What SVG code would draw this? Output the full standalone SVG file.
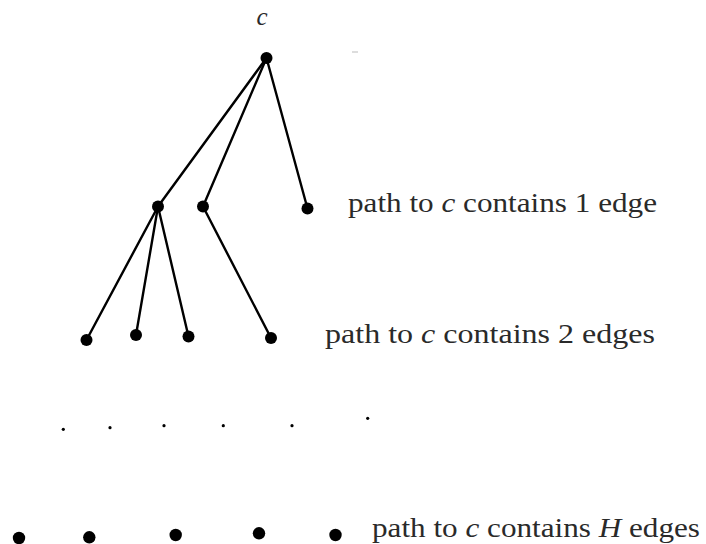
<svg xmlns="http://www.w3.org/2000/svg" width="706" height="544" viewBox="0 0 706 544">
<style>
.edge{stroke:#000;stroke-width:2.4;fill:none;stroke-linecap:round}
.node{fill:#000}
.dot{fill:#000}
.lbl{font-family:"Liberation Serif","Times New Roman",serif;font-size:27px;fill:#2a2a2a}
.it{font-style:italic}
</style>
<rect width="706" height="544" fill="#fff"/>
<g id="connectors">
<line class="edge" x1="266.5" y1="58" x2="158" y2="206.5"/>
<line class="edge" x1="266.5" y1="58" x2="203" y2="206.5"/>
<line class="edge" x1="266.5" y1="58" x2="307.5" y2="208.5"/>
<line class="edge" x1="158" y1="206.5" x2="86.5" y2="340"/>
<line class="edge" x1="158" y1="206.5" x2="136" y2="335"/>
<line class="edge" x1="158" y1="206.5" x2="188.5" y2="336.5"/>
<line class="edge" x1="203" y1="206.5" x2="271" y2="338"/>
</g>
<g id="root"><circle class="node" cx="266.5" cy="58" r="6"/><text class="lbl it" x="262" y="25" text-anchor="middle" style="font-size:25px">c</text></g>
<g id="n1a"><circle class="node" cx="158" cy="206.5" r="6"/></g>
<g id="n1b"><circle class="node" cx="203" cy="206.5" r="6"/></g>
<g id="n1c"><circle class="node" cx="307.5" cy="208.5" r="6"/></g>
<g id="n2a"><circle class="node" cx="86.5" cy="340" r="6"/></g>
<g id="n2b"><circle class="node" cx="136" cy="335" r="6"/></g>
<g id="n2c"><circle class="node" cx="188.5" cy="336.5" r="6"/></g>
<g id="n2d"><circle class="node" cx="271" cy="338" r="6"/></g>
<g id="dots">
<circle class="dot" cx="63.3" cy="429.3" r="1.6"/>
<circle class="dot" cx="110" cy="427.7" r="1.6"/>
<circle class="dot" cx="164" cy="425.7" r="1.6"/>
<circle class="dot" cx="223.3" cy="425.7" r="1.6"/>
<circle class="dot" cx="292" cy="425.7" r="1.6"/>
<circle class="dot" cx="367.7" cy="418.3" r="1.6"/>
</g>
<g id="nHa"><circle class="node" cx="19" cy="538" r="6.2"/></g>
<g id="nHb"><circle class="node" cx="89.3" cy="537.3" r="6.2"/></g>
<g id="nHc"><circle class="node" cx="175.7" cy="535" r="6.2"/></g>
<g id="nHd"><circle class="node" cx="259" cy="533.3" r="6.2"/></g>
<g id="nHe"><circle class="node" cx="335.5" cy="535" r="6.2"/></g>
<line x1="352" y1="52" x2="358" y2="52" stroke="#bbb" stroke-width="1"/>
<g id="labels">
<text class="lbl" x="348" y="212" textLength="309" lengthAdjust="spacingAndGlyphs">path to <tspan class="it">c</tspan> contains 1 edge</text>
<text class="lbl" x="325" y="343" textLength="330" lengthAdjust="spacingAndGlyphs">path to <tspan class="it">c</tspan> contains  2  edges</text>
<text class="lbl" x="372" y="537" textLength="328" lengthAdjust="spacingAndGlyphs">path to <tspan class="it">c</tspan> contains <tspan class="it">H</tspan>  edges</text>
</g>
</svg>
